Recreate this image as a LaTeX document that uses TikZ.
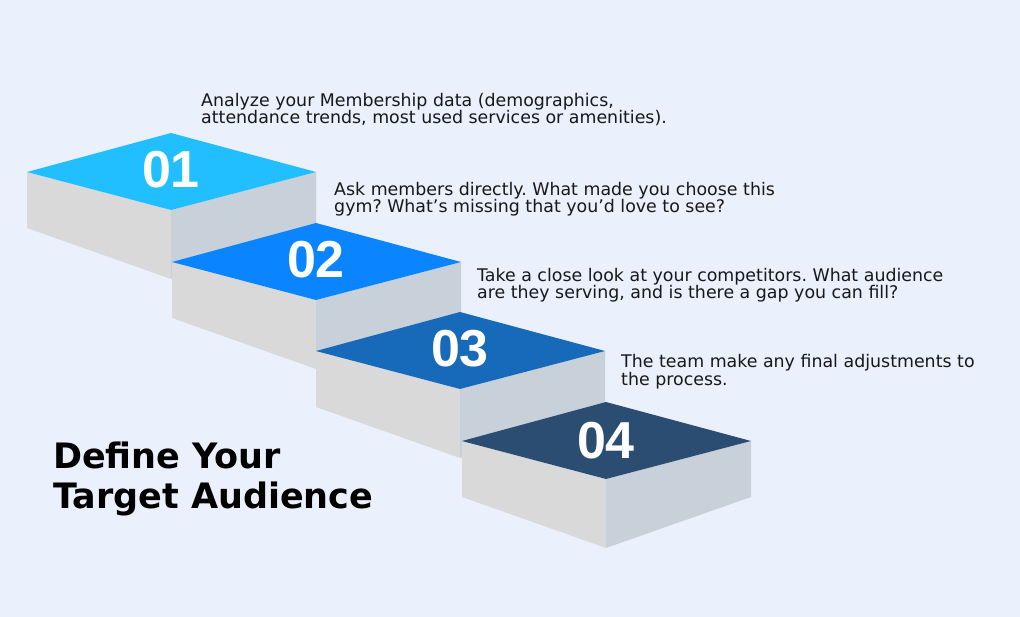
\documentclass[tikz,border=0pt]{standalone}
\usepackage{fontspec}
\setmainfont{DejaVu Sans}
\newfontfamily\numfont{Liberation Sans}
\usepackage{tikz}
\definecolor{background}{RGB}{234,241,253}
\definecolor{leftface}{RGB}{217,217,217}
\definecolor{rightface}{RGB}{200,208,217}
\definecolor{stepone}{RGB}{33,191,255}
\definecolor{steptwo}{RGB}{10,132,255}
\definecolor{stepthree}{RGB}{23,105,186}
\definecolor{stepfour}{RGB}{42,77,113}
\definecolor{ink}{RGB}{24,24,24}
\frenchspacing

\begin{document}
\begin{tikzpicture}[x=1pt, y=-1pt,
    num/.style={inner sep=0pt, text=white, font=\numfont\bfseries\fontsize{52}{52}\selectfont},
    desc/.style={anchor=base west, align=left, inner sep=0pt, text=ink, font=\fontsize{17.4}{17.8}\selectfont},
    headline/.style={anchor=base west, align=left, inner sep=0pt, text=black, font=\bfseries\fontsize{35}{40}\selectfont}]
    % Background
    \fill[background] (0,0) rectangle (1020,617);
    \useasboundingbox (0,0) rectangle (1020,617);

    % Step 1
    \begin{scope}[shift={(27,172)}]
        \fill[leftface] (0,0) -- (144,38) -- (144,107) -- (0,56) -- cycle;
        \fill[rightface] (144,38) -- (289,0) -- (289,56) -- (144,107) -- cycle;
        \fill[stepone] (0,0) -- (144,-39) -- (289,0) -- (144,38) -- cycle;
        \node[num] (n1) at (144,-2) {01};
    \end{scope}

    % Step 2
    \begin{scope}[shift={(172,262)}]
        \fill[leftface] (0,0) -- (144,38) -- (144,107) -- (0,56) -- cycle;
        \fill[rightface] (144,38) -- (289,0) -- (289,56) -- (144,107) -- cycle;
        \fill[steptwo] (0,0) -- (144,-39) -- (289,0) -- (144,38) -- cycle;
        \node[num] (n2) at (144,-2) {02};
    \end{scope}

    % Step 3
    \begin{scope}[shift={(316,351)}]
        \fill[leftface] (0,0) -- (144,38) -- (144,107) -- (0,56) -- cycle;
        \fill[rightface] (144,38) -- (289,0) -- (289,56) -- (144,107) -- cycle;
        \fill[stepthree] (0,0) -- (144,-39) -- (289,0) -- (144,38) -- cycle;
        \node[num] (n3) at (144,-2) {03};
    \end{scope}

    % Step 4
    \begin{scope}[shift={(462,441)}]
        \fill[leftface] (0,0) -- (144,38) -- (144,107) -- (0,56) -- cycle;
        \fill[rightface] (144,38) -- (289,0) -- (289,56) -- (144,107) -- cycle;
        \fill[stepfour] (0,0) -- (144,-39) -- (289,0) -- (144,38) -- cycle;
        \node[num] (n4) at (144,0) {04};
    \end{scope}

    % Descriptions (anchored at the baseline of their last line)
    \node[desc] (t1) at (201,124) {Analyze your Membership data (demographics,\\attendance trends, most used services or amenities).};
    \node[desc] (t2) at (334,213) {Ask members directly. What made you choose this\\gym? What’s missing that you’d love to see?};
    \node[desc] (t3) at (477,299) {Take a close look at your competitors. What audience\\are they serving, and is there a gap you can fill?};
    \node[desc] (t4) at (621,385) {The team make any final adjustments to\\the process.};

    % Title
    \node[headline] (title) at (53,508) {Define Your\\Target Audience};
\end{tikzpicture}
\end{document}
